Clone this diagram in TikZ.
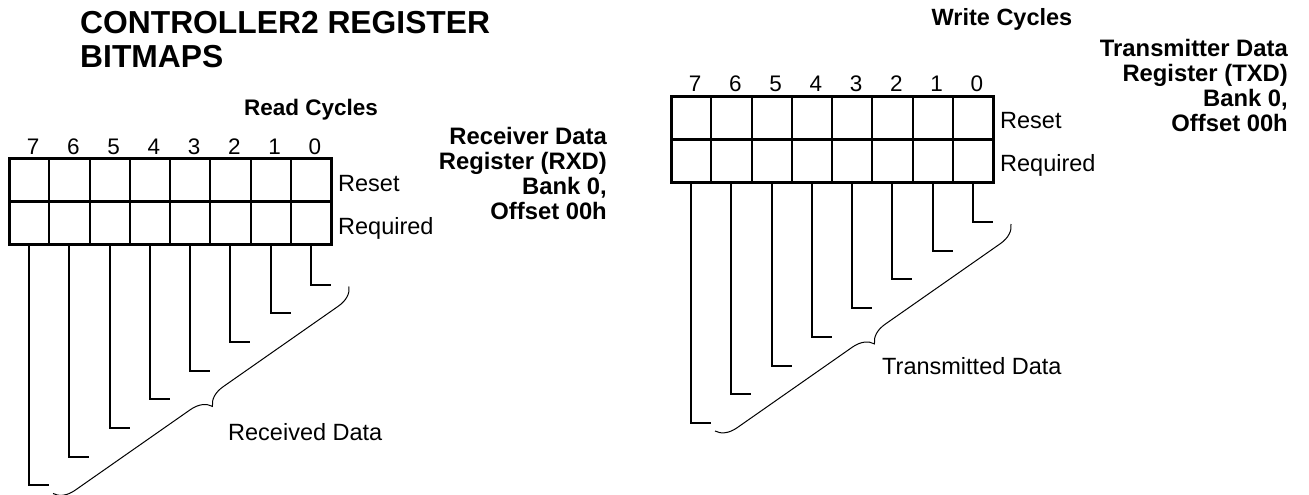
\documentclass[tikz,border=0pt]{standalone}
\usepackage{fontspec}
\setmainfont{Liberation Sans}
\usetikzlibrary{positioning,calc,decorations.pathreplacing}

\begin{document}
\begin{tikzpicture}[
		x=1pt,y=-1pt,
		cell/.style={
			draw,
			line width=2pt,
			minimum width=40.25pt,
			minimum height=43pt,
			inner sep=0pt,
			outer sep=0pt
		},
		bitnum/.style={font=\fontsize{22.5}{26}\selectfont,inner sep=0pt},
		rowlabel/.style={font=\fontsize{23.5}{26}\selectfont,inner sep=0pt,text height=16pt,text depth=0pt},
		heading/.style={font=\fontsize{22.5}{25}\bfseries\selectfont,inner sep=0pt},
		regname/.style={font=\fontsize{23.8}{25}\bfseries\selectfont,inner sep=0pt,align=right},
		lead/.style={line width=2pt},
		databrace/.style={decorate,decoration={brace,amplitude=20pt},line width=1pt}
		]
		
		\useasboundingbox (0,0) rectangle (1309,495);
		
		\node[font=\fontsize{31.8}{34}\bfseries\selectfont,inner sep=0pt,align=left,anchor=north west]
		(title) at (80,11)
		{CONTROLLER2 REGISTER\\BITMAPS};
		
		\node[heading,anchor=base] (rdcyc) at (311,115) {Read Cycles};
		\node[heading,anchor=base,font=\fontsize{23.5}{25}\bfseries\selectfont] (wrcyc) at (1002,26) {Write Cycles};
		
		\node[regname,anchor=north east] (rxname) at (607,127)
		{Receiver Data\\Register (RXD)\\Bank 0,\\Offset 00h};
		\node[regname,anchor=north east] (txname) at (1288,39)
		{Transmitter Data\\Register (TXD)\\Bank 0,\\Offset 00h};
		
		% both registers
		\foreach \reg/\ox/\oy/\lx/\ly/\data in {rx/9/158.5/228/432/Received Data, tx/671/96/882/366/Transmitted Data}{
			\foreach \b in {0,...,7}{
				\node[cell,anchor=north west] (\reg-set-\b) at (\ox+281.75-40.25*\b,\oy) {};
				\node[cell,below=0pt of \reg-set-\b] (\reg-req-\b) {};
				\node[bitnum,above=4pt of \reg-set-\b,xshift=4pt] (\reg-num-\b) {\b};
				\coordinate (\reg-end-\b) at ($(\reg-req-\b.south)+(20,40+28.7*\b)$);
				\draw[lead] (\reg-req-\b.south) |- (\reg-end-\b);
			}
			\draw[line width=3pt] (\reg-set-7.north west) rectangle (\reg-req-0.south east);
			\draw[line width=3pt] (\reg-set-7.south west) -- (\reg-set-0.south east);
			
			\node[rowlabel,right=7pt of \reg-set-0,yshift=-3pt] (\reg-reset) {Reset};
			\node[rowlabel,right=7pt of \reg-req-0,yshift=-3pt] (\reg-required) {Required};
			
			\coordinate (\reg-brace-a) at ($(\reg-req-0.south east)+(18,42)$);
			\coordinate (\reg-brace-b) at ($(\reg-req-7.south west)+(44,249)$);
			\draw[databrace] (\reg-brace-a) -- (\reg-brace-b);
			\node[rowlabel,anchor=west] (\reg-data) at (\lx,\ly) {\data};
		}
		
	\end{tikzpicture}
\end{document}
